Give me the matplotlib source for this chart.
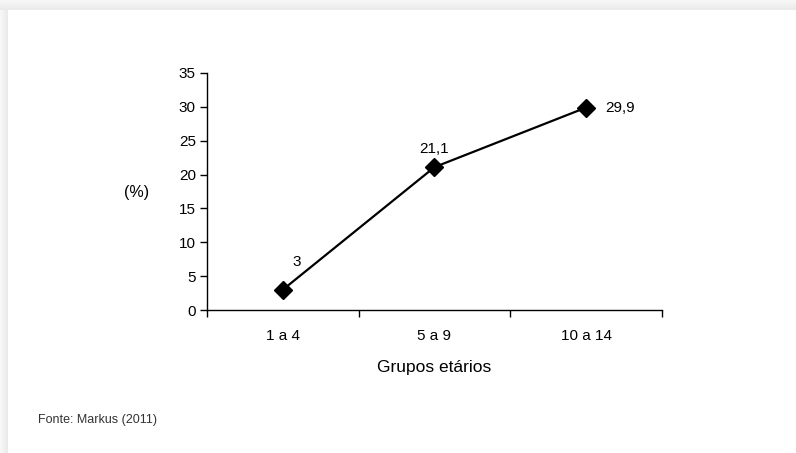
import matplotlib
matplotlib.use("Agg")
import matplotlib.pyplot as plt
from matplotlib.patches import Rectangle

plt.rcParams['font.family'] = ['Liberation Sans Narrow', 'Liberation Sans', 'DejaVu Sans']

grupos = ['1 a 4', '5 a 9', '10 a 14']
valores = [3, 21.1, 29.9]
rotulos = ['3', '21,1', '29,9']

W, H = 796, 453
fig = plt.figure(figsize=(W / 100, H / 100), dpi=100)
fig.patch.set_facecolor('white')

# soft grey shadow along the top and left of the white card
top, left = 10, 8
for i in range(top):
    g = 0.97 - 0.06 * i / top
    fig.patches.append(Rectangle((0, 1 - (i + 1) / H), 1, 1 / H, transform=fig.transFigure,
                                 facecolor=(g, g, g), edgecolor='none', zorder=-10))
for i in range(left):
    g = 0.97 - 0.06 * i / left
    fig.patches.append(Rectangle((i / W, 0), 1 / W, 1 - top / H, transform=fig.transFigure,
                                 facecolor=(g, g, g), edgecolor='none', zorder=-10))

ax = fig.add_axes([207 / W, 1 - 310 / H, (662 - 207) / W, (310 - 73) / H])
ax.set_facecolor('none')

x = list(range(1, len(grupos) + 1))
ax.plot(x, valores, color='black', lw=1.6, marker='D', markersize=9,
        markerfacecolor='black', markeredgecolor='black', clip_on=False)

offsets = [(7, 15), (0, 8), (14, 0)]
aligns = [('left', 'bottom'), ('center', 'bottom'), ('left', 'center')]
for xi, v, r, off, al in zip(x, valores, rotulos, offsets, aligns):
    ax.annotate(r, (xi, v), xytext=off, textcoords='offset points',
                ha=al[0], va=al[1], fontsize=11)

ax.set_xlim(0.5, len(grupos) + 0.5)
ax.set_ylim(0, 35)
ax.set_yticks(range(0, 36, 5))
ax.set_xticks([i + 0.5 for i in range(len(grupos) + 1)])
ax.set_xticklabels([])
ax.set_xticks(x, minor=True)
ax.set_xticklabels(grupos, minor=True)
ax.tick_params(axis='x', which='minor', length=0, pad=14, labelsize=11)
ax.tick_params(axis='x', which='major', length=5, width=1, direction='out')
ax.tick_params(axis='y', length=5, width=1, direction='out', pad=3, labelsize=11)
for s in ['top', 'right']:
    ax.spines[s].set_visible(False)
for s in ['left', 'bottom']:
    ax.spines[s].set_linewidth(1)

ax.set_xlabel('Grupos etários', fontsize=12.5, labelpad=12)
fig.text(137 / W, 1 - 193 / H, '(%)', ha='center', va='center', fontsize=11.5)
fig.text(38 / W, 1 - 420 / H, 'Fonte: Markus (2011)', ha='left', va='center',
         fontsize=9, color='#333333')

fig.savefig('out.png', dpi=100)
